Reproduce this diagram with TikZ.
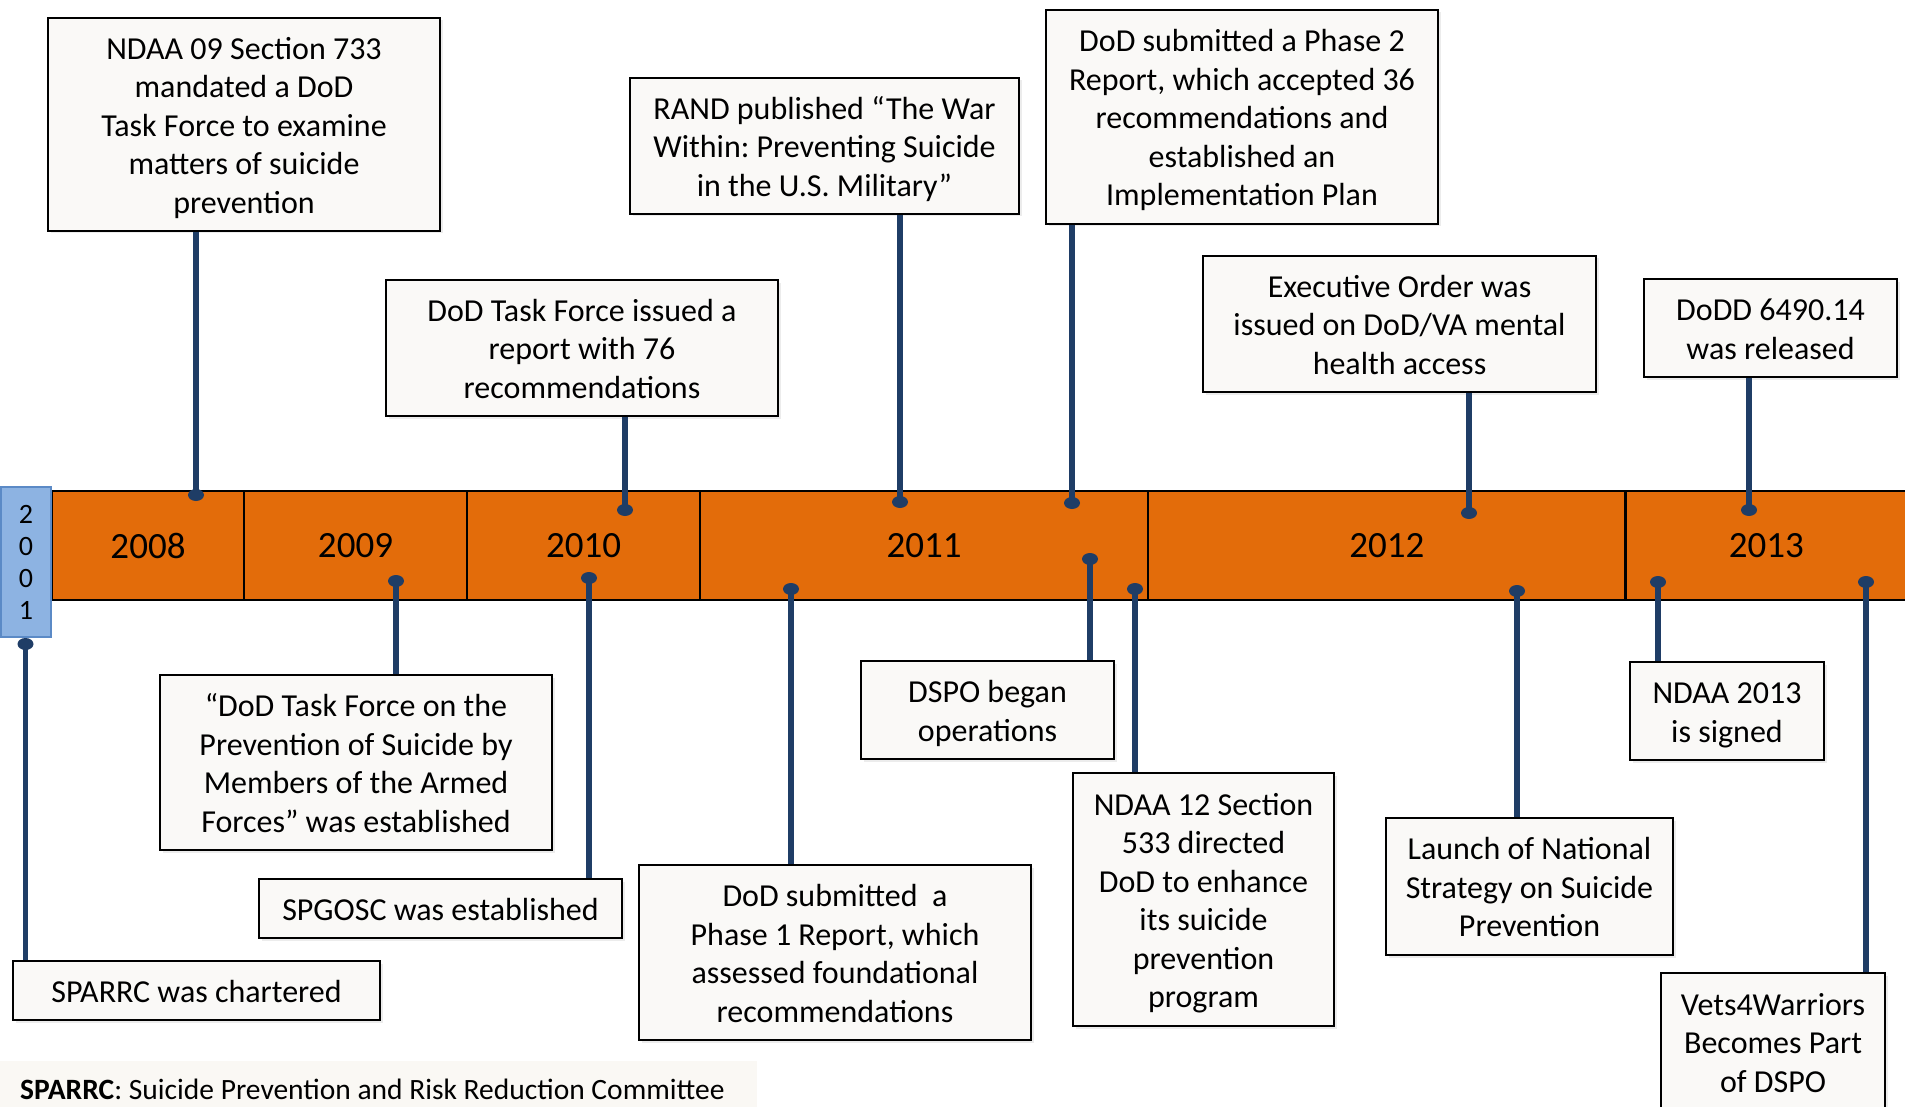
\documentclass[tikz,border=0pt]{standalone}
\usepackage{fontspec}
\setmainfont{Carlito}
\usetikzlibrary{shapes.geometric,shadows}
\definecolor{barorange}{HTML}{E36C0A}
\definecolor{navy}{HTML}{1F3D66}
\definecolor{boxfill}{HTML}{FAF9F7}
\definecolor{legendbg}{HTML}{FAF8F4}
\definecolor{yrfill}{HTML}{8DB3E2}
\definecolor{yrline}{HTML}{5B8AC6}
\newcommand\firstln{\rule{0pt}{31.5pt}}
\frenchspacing
\begin{document}
\frenchspacing
\begin{tikzpicture}[x=1pt,y=-1pt,
  evbox/.style={draw=black, line width=2.4pt, fill=boxfill, align=center, inner sep=0pt,
    font=\fontsize{32}{38.5}\selectfont,
    execute at end node={\rule[-8pt]{0pt}{8pt}},
    drop shadow={shadow xshift=2.5pt, shadow yshift=-2.5pt, opacity=0.15}},
  cell/.style={draw=black, line width=2.6pt, fill=barorange, minimum height=109pt, inner sep=0pt,
    font=\fontsize{37}{40}\selectfont},
  pin/.style={ellipse, fill=navy, minimum width=16pt, minimum height=12pt, inner sep=0pt},
  conn/.style={draw=navy, line width=5.5pt}]
\useasboundingbox (0,0) rectangle (1905,1107);
\clip (0,0) rectangle (1905,1107);

% timeline bar
\node[cell, minimum width=192pt]   (c2008) at (148,545.5) {2008};
\node[cell, minimum width=223pt]   (c2009) at (355.5,545.5) {2009};
\node[cell, minimum width=233pt]   (c2010) at (583.5,545.5) {2010};
\node[cell, minimum width=448pt]   (c2011) at (924,545.5) {2011};
\node[cell, minimum width=477.5pt] (c2012) at (1386.75,545.5) {2012};
\node[cell, minimum width=281.5pt] (c2013) at (1766.25,545.5) {2013};
\node[draw=yrline, line width=2pt, fill=yrfill, minimum width=50pt, minimum height=150pt,
  inner sep=0pt, align=center, font=\fontsize{28}{32}\selectfont] (y2001) at (26,562) {2\\0\\0\\1};

% legend
\node[fill=legendbg, minimum width=757pt, minimum height=50pt, anchor=north west, inner sep=0pt] (legend) at (0,1061) {};
\node[anchor=west, inner sep=0pt, font=\fontsize{29.5}{32}\selectfont] (legtext) at (20,1089)
  {\textbf{SPARRC}: Suicide Prevention and Risk Reduction Committee};

% top boxes
\node[evbox, minimum width=392pt, minimum height=213pt] (n09) at (244,124.5)
  {\firstln NDAA 09 Section 733\\mandated a DoD\\Task Force to examine\\matters of suicide\\prevention};
\node[evbox, minimum width=392pt, minimum height=136pt] (tfr) at (582,348)
  {\firstln DoD Task Force issued a\\report with 76\\recommendations};
\node[evbox, minimum width=389pt, minimum height=136pt] (rand) at (824.5,146)
  {\firstln RAND published “The War\\Within: Preventing Suicide\\in the U.S. Military”};
\node[evbox, minimum width=392pt, minimum height=214pt] (ph2) at (1242,117)
  {\firstln DoD submitted a Phase 2\\Report, which accepted 36\\recommendations and\\established an\\Implementation Plan};
\node[evbox, minimum width=393pt, minimum height=136pt] (exo) at (1399.5,324)
  {\firstln Executive Order was\\issued on DoD/VA mental\\health access};
\node[evbox, minimum width=253pt, minimum height=98pt] (dodd) at (1770.5,328)
  {\firstln DoDD 6490.14\\was released};

% bottom boxes
\node[evbox, minimum width=367pt, minimum height=59pt] (sparrc) at (196.5,990.5)
  {\firstln SPARRC was chartered};
\node[evbox, minimum width=392pt, minimum height=175pt] (tfe) at (356,762.5)
  {\firstln “DoD Task Force on the\\Prevention of Suicide by\\Members of the Armed\\Forces” was established};
\node[evbox, minimum width=363pt, minimum height=59pt] (spg) at (440.5,908.5)
  {\firstln SPGOSC was established};
\node[evbox, minimum width=392pt, minimum height=175pt] (ph1) at (835,952.5)
  {\firstln DoD submitted~ a\\Phase 1 Report, which\\assessed foundational\\recommendations};
\node[evbox, minimum width=253pt, minimum height=98pt] (dspo) at (987.5,710)
  {\firstln DSPO began\\operations};
\node[evbox, minimum width=261pt, minimum height=253pt] (n12) at (1203.5,899.5)
  {\firstln NDAA 12 Section\\533 directed\\DoD to enhance\\its suicide\\prevention\\program};
\node[evbox, minimum width=287pt, minimum height=137pt] (launch) at (1529.5,886.5)
  {\firstln Launch of National\\Strategy on Suicide\\Prevention};
\node[evbox, minimum width=194pt, minimum height=98pt] (n13) at (1727,711)
  {\firstln NDAA 2013\\is signed};
\node[evbox, minimum width=224pt, minimum height=138pt] (vets) at (1773,1042)
  {\firstln Vets4Warriors\\Becomes Part\\of DSPO};

% pin positions
\coordinate (q1) at (196,495);
\coordinate (q2) at (625,510);
\coordinate (q3) at (900,502);
\coordinate (q4) at (1072,503);
\coordinate (q5) at (1469,513);
\coordinate (q6) at (1749,510);
\coordinate (q7) at (25.5,644);
\coordinate (q8) at (396,581);
\coordinate (q9) at (589,578);
\coordinate (q10) at (791,589);
\coordinate (q11) at (1090,559);
\coordinate (q12) at (1135,589);
\coordinate (q13) at (1517,591);
\coordinate (q14) at (1658,582);
\coordinate (q15) at (1866,582);

% connectors
\draw[conn] (q1) -- (q1 |- n09.south);
\draw[conn] (q2) -- (q2 |- tfr.south);
\draw[conn] (q3) -- (q3 |- rand.south);
\draw[conn] (q4) -- (q4 |- ph2.south);
\draw[conn] (q5) -- (q5 |- exo.south);
\draw[conn] (q6) -- (q6 |- dodd.south);
\draw[conn] (q7) -- (q7 |- sparrc.north);
\draw[conn] (q8) -- (q8 |- tfe.north);
\draw[conn] (q9) -- (q9 |- spg.north);
\draw[conn] (q10) -- (q10 |- ph1.north);
\draw[conn] (q11) -- (q11 |- dspo.north);
\draw[conn] (q12) -- (q12 |- n12.north);
\draw[conn] (q13) -- (q13 |- launch.north);
\draw[conn] (q14) -- (q14 |- n13.north);
\draw[conn] (q15) -- (q15 |- vets.north);

% pins
\foreach \i in {1,...,15} { \node[pin] (pin\i) at (q\i) {}; }
\end{tikzpicture}
\end{document}
